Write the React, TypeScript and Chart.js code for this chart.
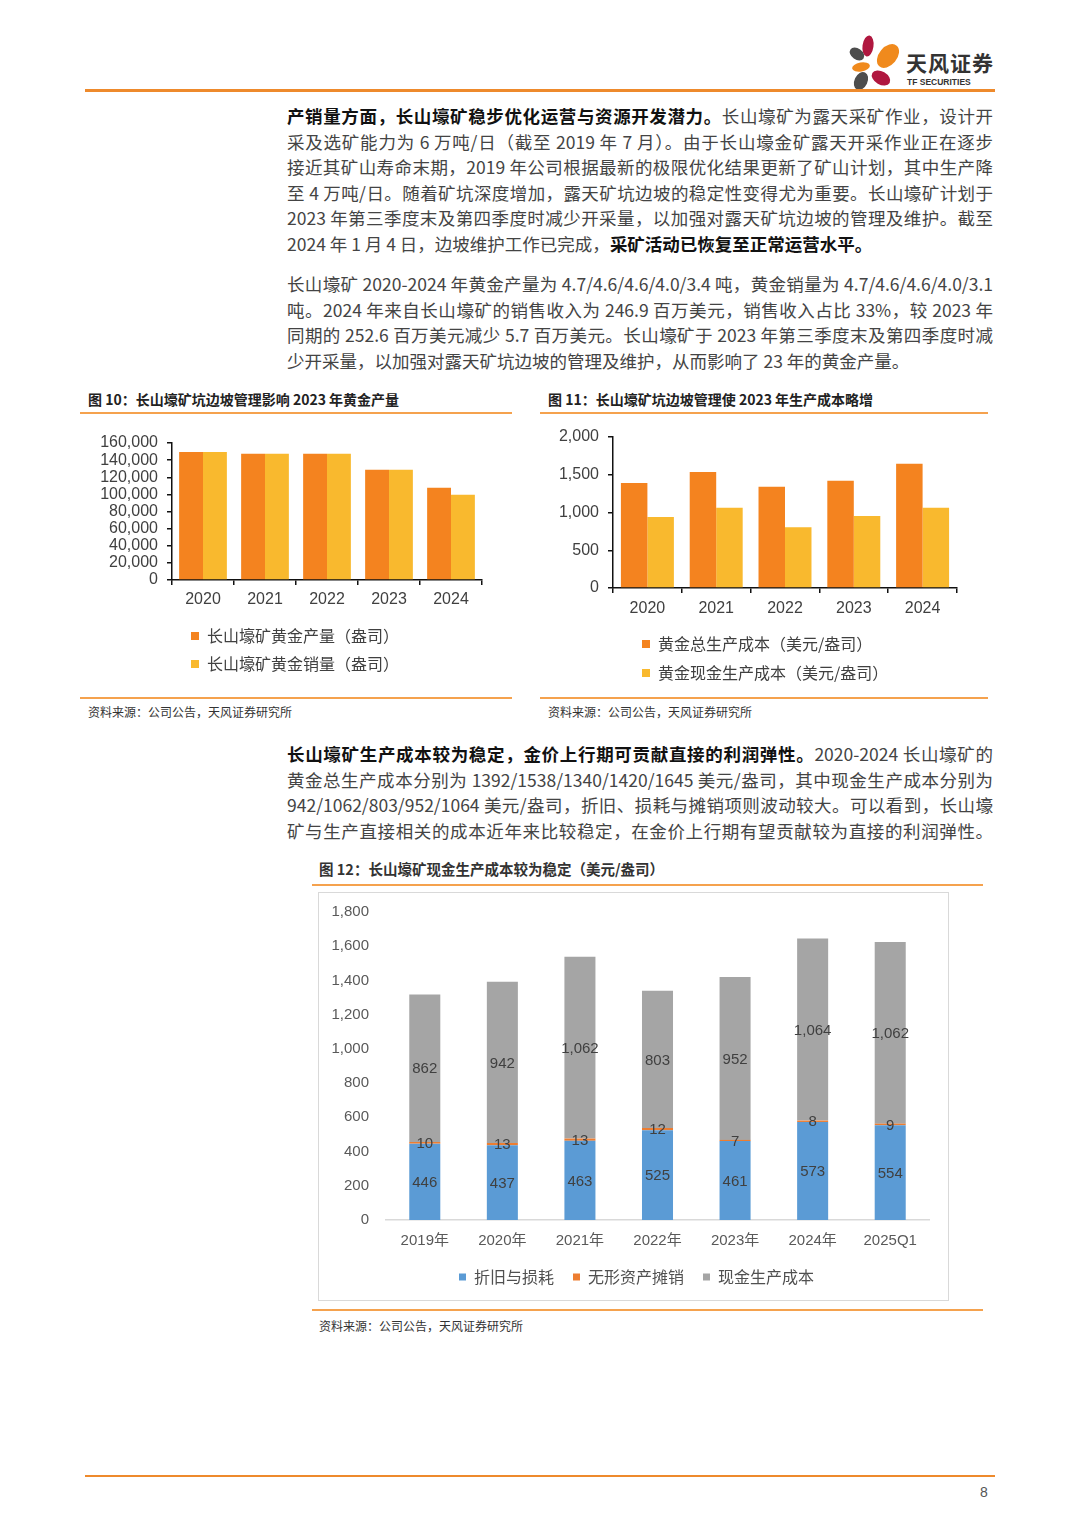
import React, { useEffect, useRef } from 'react';
import { Chart, registerables } from 'chart.js';
Chart.register(...registerables);

const years = ['2020', '2021', '2022', '2023', '2024'];
const goldOutput = [149400, 147500, 147500, 128700, 107800];
const goldSales = [149400, 147500, 147500, 128700, 99700];
const outputNames = ['长山壕矿黄金产量（盎司）', '长山壕矿黄金销量（盎司）'];

const totalCost = [1392, 1538, 1340, 1420, 1645];
const cashCost = [942, 1062, 803, 952, 1064];
const costNames = ['黄金总生产成本（美元/盎司）', '黄金现金生产成本（美元/盎司）'];

const periods = ['2019年', '2020年', '2021年', '2022年', '2023年', '2024年', '2025Q1'];
const depreciation = [446, 437, 463, 525, 461, 573, 554];
const amortization = [10, 13, 13, 12, 7, 8, 9];
const cashProduction = [862, 942, 1062, 803, 952, 1064, 1062];
const stackNames = ['折旧与损耗', '无形资产摊销', '现金生产成本'];

const outputTicks = { min: 0, max: 160000, step: 20000 };
const costTicks = { min: 0, max: 2000, step: 500 };
const stackTicks = { min: 0, max: 1800, step: 200 };

const CJK = "'Noto Sans CJK SC', sans-serif";
const SANS = "'Liberation Sans', 'Noto Sans CJK SC', sans-serif";
const ORANGE = '#F4831F';
const YELLOW = '#F9B92E';

Chart.defaults.font.family = SANS;

const fmt = (v: any) => Number(v).toLocaleString('en-US');

// moves the (start-aligned) legend so that its first marker sits at options.x (canvas px)
const legendXPlugin = {
  id: 'legendX',
  afterLayout(chart: any, _args: any, opts: any) {
    const lg = chart.legend;
    if (!lg || opts == null || opts.x == null) return;
    const pad = lg.options.labels.padding;
    const dx = opts.x - (lg.left + pad);
    lg.left += dx;
    lg.right += dx;
  },
};

function ChartBox({ make, left, top, width, height }: any) {
  const ref = useRef<HTMLCanvasElement>(null);
  useEffect(() => {
    const c = new Chart(ref.current as HTMLCanvasElement, make());
    return () => c.destroy();
  }, []);
  return (
    <canvas
      ref={ref}
      width={width}
      height={height}
      style={{ position: 'absolute', left, top, width, height }}
    />
  );
}

function pairBarConfig(
  labels: string[],
  a: number[],
  b: number[],
  names: string[],
  ticks: { min: number; max: number; step: number },
  yWidth: number,
  xHeight: number,
  pad: any,
  legendPad: number,
  xPad: number,
  yPad: number,
  legendX: number
) {
  return {
    type: 'bar',
    data: {
      labels,
      datasets: [
        { label: names[0], data: a, backgroundColor: ORANGE, borderWidth: 0 },
        { label: names[1], data: b, backgroundColor: YELLOW, borderWidth: 0 },
      ],
    },
    plugins: [legendXPlugin],
    options: {
      responsive: false,
      animation: false,
      layout: { padding: pad },
      datasets: { bar: { categoryPercentage: 0.77, barPercentage: 1 } },
      plugins: {
        tooltip: { enabled: false },
        legendX: { x: legendX },
        legend: {
          position: 'bottom',
          align: 'start',
          labels: {
            boxWidth: 8,
            boxHeight: 8,
            padding: legendPad,
            color: '#404040',
            font: { size: 16, family: CJK },
          },
        },
      },
      scales: {
        x: {
          grid: {
            display: true,
            drawOnChartArea: false,
            drawTicks: true,
            tickLength: 5,
            color: '#111',
            lineWidth: 1.5,
            offset: true,
          },
          border: { display: true, color: '#111', width: 1.5 },
          ticks: { color: '#404040', font: { size: 16 }, padding: xPad },
          afterFit: (s: any) => {
            s.height = xHeight;
          },
        },
        y: {
          min: ticks.min,
          max: ticks.max,
          grid: {
            display: true,
            drawOnChartArea: false,
            drawTicks: true,
            tickLength: 5,
            color: '#111',
            lineWidth: 1.5,
          },
          border: { display: true, color: '#111', width: 1.5 },
          ticks: {
            stepSize: ticks.step,
            autoSkip: false,
            color: '#404040',
            font: { size: 16 },
            padding: yPad,
            callback: fmt,
          },
          afterFit: (s: any) => {
            s.width = yWidth;
          },
        },
      },
    },
  } as any;
}

const segLabelPlugin = {
  id: 'segLabels',
  afterDatasetsDraw(chart: any) {
    const ctx = chart.ctx;
    ctx.save();
    ctx.font = "15px 'Liberation Sans', sans-serif";
    ctx.fillStyle = '#404040';
    ctx.textAlign = 'center';
    ctx.textBaseline = 'middle';
    chart.data.datasets.forEach((ds: any, i: number) => {
      const meta = chart.getDatasetMeta(i);
      meta.data.forEach((el: any, j: number) => {
        const p = el.getProps(['x', 'y', 'base'], true);
        ctx.fillText(fmt(ds.data[j]), p.x, (p.y + p.base) / 2 + 1);
      });
    });
    ctx.restore();
  },
};

function stackConfig() {
  return {
    type: 'bar',
    data: {
      labels: periods,
      datasets: [
        { label: stackNames[0], data: depreciation, backgroundColor: '#5B9BD5', borderWidth: 0 },
        { label: stackNames[1], data: amortization, backgroundColor: '#ED7D31', borderWidth: 0 },
        { label: stackNames[2], data: cashProduction, backgroundColor: '#A5A5A5', borderWidth: 0 },
      ],
    },
    plugins: [segLabelPlugin, legendXPlugin],
    options: {
      responsive: false,
      animation: false,
      layout: { padding: { top: 26, left: 10, right: 17, bottom: 3 } },
      datasets: { bar: { categoryPercentage: 1, barPercentage: 0.4 } },
      plugins: {
        tooltip: { enabled: false },
        legendX: { x: 459 - 320 },
        legend: {
          position: 'bottom',
          align: 'start',
          labels: {
            boxWidth: 7,
            boxHeight: 7,
            padding: 19,
            color: '#505050',
            font: { size: 16, family: CJK },
          },
        },
      },
      scales: {
        x: {
          stacked: true,
          grid: { display: false, drawTicks: false },
          border: { display: true, color: '#D9D9D9', width: 1.5 },
          ticks: { color: '#595959', font: { size: 15 }, padding: 12 },
          afterFit: (s: any) => {
            s.height = 30;
          },
        },
        y: {
          stacked: true,
          min: stackTicks.min,
          max: stackTicks.max,
          grid: { display: false, drawTicks: false },
          border: { display: false },
          ticks: {
            stepSize: stackTicks.step,
            autoSkip: false,
            color: '#595959',
            font: { size: 15 },
            padding: 17,
            callback: fmt,
          },
          afterFit: (s: any) => {
            s.width = 56;
          },
        },
      },
    },
  } as any;
}

const P = (props: any) => <span>{props.children}</span>;
const B = (props: any) => <span style={{ fontWeight: 700, color: '#111' }}>{props.children}</span>;

function Para({ top, lines, lastLeft }: any) {
  return (
    <div
      style={{
        position: 'absolute',
        left: 287,
        top,
        width: 706,
        fontFamily: CJK,
        fontSize: 17.5,
        color: '#444',
      }}
    >
      {lines.map((ln: any, i: number) => (
        <div
          key={i}
          style={{
            height: 25.6,
            lineHeight: '25.6px',
            textAlign: 'justify',
            textAlignLast: lastLeft && i === lines.length - 1 ? 'left' : 'justify',
            whiteSpace: 'normal',
          }}
        >
          {ln}
        </div>
      ))}
    </div>
  );
}

const hline = (left: number, top: number, width: number, h: number, color: string) => (
  <div style={{ position: 'absolute', left, top, width, height: h, background: color }} />
);

const txt = (left: number, top: number, s: string, size: number, bold: boolean, color: string) => (
  <div
    style={{
      position: 'absolute',
      left,
      top,
      fontFamily: CJK,
      fontSize: size,
      fontWeight: bold ? 700 : 400,
      color,
      whiteSpace: 'nowrap',
      lineHeight: '20px',
    }}
  >
    {s}
  </div>
);

export default function App() {
  const para1 = [
    <>
      <B>产销量方面，长山壕矿稳步优化运营与资源开发潜力。</B>
      <P>长山壕矿为露天采矿作业，设计开</P>
    </>,
    <>采及选矿能力为 6 万吨/日（截至 2019 年 7 月）。由于长山壕金矿露天开采作业正在逐步</>,
    <>接近其矿山寿命末期，2019 年公司根据最新的极限优化结果更新了矿山计划，其中生产降</>,
    <>至 4 万吨/日。随着矿坑深度增加，露天矿坑边坡的稳定性变得尤为重要。长山壕矿计划于</>,
    <>2023 年第三季度末及第四季度时减少开采量，以加强对露天矿坑边坡的管理及维护。截至</>,
    <>
      2024 年 1 月 4 日，边坡维护工作已完成，<B>采矿活动已恢复至正常运营水平。</B>
    </>,
  ];
  const para2 = [
    <>长山壕矿 2020-2024 年黄金产量为 4.7/4.6/4.6/4.0/3.4 吨，黄金销量为 4.7/4.6/4.6/4.0/3.1</>,
    <>吨。2024 年来自长山壕矿的销售收入为 246.9 百万美元，销售收入占比 33%，较 2023 年</>,
    <>同期的 252.6 百万美元减少 5.7 百万美元。长山壕矿于 2023 年第三季度末及第四季度时减</>,
    <>少开采量，以加强对露天矿坑边坡的管理及维护，从而影响了 23 年的黄金产量。</>,
  ];
  const para3 = [
    <>
      <B>长山壕矿生产成本较为稳定，金价上行期可贡献直接的利润弹性。</B>2020-2024 长山壕矿的
    </>,
    <>黄金总生产成本分别为 1392/1538/1340/1420/1645 美元/盎司，其中现金生产成本分别为</>,
    <>942/1062/803/952/1064 美元/盎司，折旧、损耗与摊销项则波动较大。可以看到，长山壕</>,
    <>矿与生产直接相关的成本近年来比较稳定，在金价上行期有望贡献较为直接的利润弹性。</>,
  ];

  const LINE = '#F5A24E';
  return (
    <div style={{ position: 'absolute', left: 0, top: 0, width: 1080, height: 1527, background: '#fff', overflow: 'hidden' }}>
      {/* header logo */}
      <svg style={{ position: 'absolute', left: 0, top: 0 }} width={1080} height={100}>
        <ellipse cx={868} cy={46} rx={5.5} ry={10.5} fill="#B0173F" transform="rotate(8 868 46)" />
        <ellipse cx={857} cy={54} rx={8} ry={5.5} fill="#4D4D4D" transform="rotate(35 857 54)" />
        <ellipse cx={888} cy={56} rx={9} ry={13.5} fill="#F08A1D" transform="rotate(40 888 56)" />
        <ellipse cx={861} cy={67} rx={9} ry={4.5} fill="#F08A1D" transform="rotate(-10 861 67)" />
        <ellipse cx={861} cy={81} rx={6.5} ry={9.5} fill="#4D4D4D" transform="rotate(25 861 81)" />
        <ellipse cx={881} cy={78} rx={10} ry={6.5} fill="#B0173F" transform="rotate(30 881 78)" />
      </svg>
      <div style={{ position: 'absolute', left: 906, top: 50, fontFamily: CJK, fontWeight: 700, fontSize: 21, color: '#333', lineHeight: '24px', letterSpacing: 1 }}>
        天风证券
      </div>
      <div style={{ position: 'absolute', left: 907, top: 77, fontFamily: "'Liberation Sans', sans-serif", fontWeight: 700, fontSize: 8.5, color: '#333', lineHeight: '11px' }}>
        TF SECURITIES
      </div>
      {hline(85, 89, 910, 2.5, '#EE8A2C')}

      <Para top={103} lines={para1} lastLeft />
      <Para top={271} lines={para2} lastLeft />

      {/* figure 10 */}
      {txt(88, 389, '图 10：长山壕矿坑边坡管理影响 2023 年黄金产量', 14, true, '#222')}
      {hline(80, 412, 432, 1.5, LINE)}
      <ChartBox
        left={95}
        top={424}
        width={406}
        height={261}
        make={() =>
          pairBarConfig(years, goldOutput, goldSales, outputNames, outputTicks, 77, 36,
            { top: 19, right: 19, bottom: 3, left: 0 }, 12, 5, 9, 191 - 95)
        }
      />
      {hline(80, 697, 432, 1.5, LINE)}
      {txt(88, 702, '资料来源：公司公告，天风证券研究所', 12, false, '#333')}

      {/* figure 11 */}
      {txt(548, 389, '图 11：长山壕矿坑边坡管理使 2023 年生产成本略增', 14, true, '#222')}
      {hline(540, 412, 448, 1.5, LINE)}
      <ChartBox
        left={555}
        top={418}
        width={417}
        height={275}
        make={() =>
          pairBarConfig(years, totalCost, cashCost, costNames, costTicks, 58, 35,
            { top: 19, right: 15, bottom: 2, left: 0 }, 13, 6, 9, 642 - 555)
        }
      />
      {hline(540, 697, 448, 1.5, LINE)}
      {txt(548, 702, '资料来源：公司公告，天风证券研究所', 12, false, '#333')}

      <Para top={741} lines={para3} />

      {/* figure 12 */}
      {txt(319, 859, '图 12：长山壕矿现金生产成本较为稳定（美元/盎司）', 14.5, true, '#333')}
      {hline(312, 884, 671, 1.5, LINE)}
      <div style={{ position: 'absolute', left: 318, top: 892, width: 629, height: 407, border: '1px solid #D9D9D9' }} />
      <ChartBox left={320} top={886} width={626} height={412} make={stackConfig} />
      {hline(312, 1309, 671, 1.5, LINE)}
      {txt(319, 1316, '资料来源：公司公告，天风证券研究所', 12, false, '#333')}

      {/* footer */}
      {hline(85, 1475, 910, 2, '#EE8A2C')}
      <div style={{ position: 'absolute', left: 980, top: 1483, fontFamily: SANS, fontSize: 14, color: '#555', lineHeight: '18px' }}>8</div>
    </div>
  );
}
